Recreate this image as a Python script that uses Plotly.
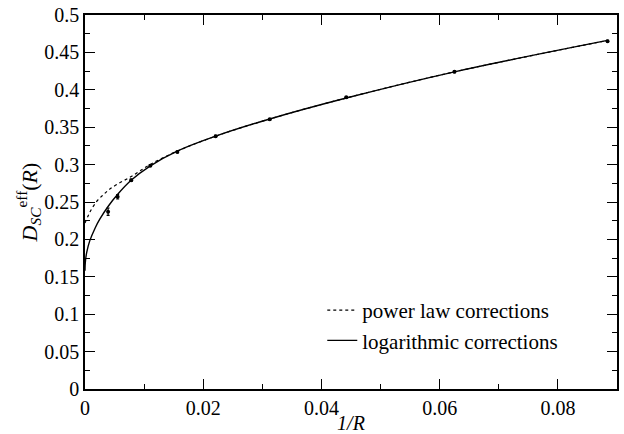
import plotly.graph_objects as go

# Measured points
inv_R = [0.00390625, 0.005524, 0.0078125, 0.01105, 0.015625, 0.0221, 0.03125, 0.0442, 0.0625, 0.0884]
D_eff = [0.237, 0.257, 0.279, 0.2985, 0.317, 0.338, 0.3605, 0.390, 0.424, 0.465]
D_err = [0.005, 0.003, 0.0015, 0.001, 0.001, 0.001, 0.001, 0.001, 0.001, 0.001]

# Fit curves
pow_x = [0.0, 0.0005, 0.001, 0.002, 0.003, 0.004, 0.0055, 0.0078, 0.011, 0.0156, 0.0221, 0.03125, 0.0442, 0.0625, 0.0884]
pow_y = [0.222, 0.231, 0.239, 0.251, 0.259, 0.266, 0.274, 0.284, 0.300, 0.318, 0.338, 0.361, 0.389, 0.424, 0.466]

log_x = [0.0, 0.00002, 0.0001, 0.0003, 0.0008, 0.0017, 0.0025, 0.0039, 0.0055, 0.0078, 0.011, 0.0156, 0.0221, 0.03125, 0.0442, 0.0625, 0.0884]
log_y = [0.158, 0.165, 0.173, 0.183, 0.198, 0.215, 0.227, 0.244, 0.260, 0.279, 0.298, 0.318, 0.338, 0.361, 0.389, 0.424, 0.466]

FONT = "Liberation Serif"

fig = go.Figure()
fig.add_trace(go.Scatter(
    x=pow_x, y=pow_y, mode="lines", name="power law corrections",
    line=dict(color="black", width=1.2, dash="3px,3px", shape="spline"),
    legendgroup="a"))
fig.add_trace(go.Scatter(
    x=log_x, y=log_y, mode="lines", name="logarithmic corrections",
    line=dict(color="black", width=1.4, shape="spline"),
    legendgroup="b"))
fig.add_trace(go.Scatter(
    x=inv_R, y=D_eff, mode="markers", showlegend=False,
    marker=dict(color="black", size=4),
    error_y=dict(type="data", array=D_err, color="black", thickness=1.2, width=1.5)))

axis_common = dict(
    showline=True, linecolor="black", linewidth=1.5, mirror="ticks",
    ticks="inside", tickcolor="black", ticklen=10, tickwidth=1.3,
    showgrid=False, zeroline=False, automargin=False,
    tickfont=dict(family=FONT, size=20, color="black"),
)

fig.update_xaxes(
    range=[0, 0.09], tick0=0, dtick=0.02, tickformat="~g",
    minor=dict(ticks="inside", ticklen=5, tickcolor="black", dtick=0.01, tickwidth=1.3),
    title=dict(text="<i>1/R</i>", font=dict(family=FONT, size=20, color="black"), standoff=0),
    **axis_common)
fig.update_yaxes(
    range=[0, 0.5], tick0=0, dtick=0.05, tickformat="~g",
    minor=dict(ticks="inside", ticklen=5, tickcolor="black", dtick=0.025, tickwidth=1.3),
    title=dict(text="<i>D</i><sub><i>SC</i></sub><sup>eff</sup>(<i>R</i>)",
               font=dict(family=FONT, size=22, color="black"), standoff=0),
    **axis_common)

fig.update_layout(
    width=624, height=434,
    margin=dict(l=85, r=7, t=15, b=45),
    paper_bgcolor="white", plot_bgcolor="white",
    legend=dict(x=0.446, y=0.265, xanchor="left", yanchor="top",
                font=dict(family=FONT, size=21, color="black"),
                bgcolor="rgba(0,0,0,0)", tracegroupgap=0),
    showlegend=True,
)

fig.write_html("out.html", config={"displayModeBar": False},
               post_script="document.body.style.margin='0';document.body.style.overflow='hidden';")
